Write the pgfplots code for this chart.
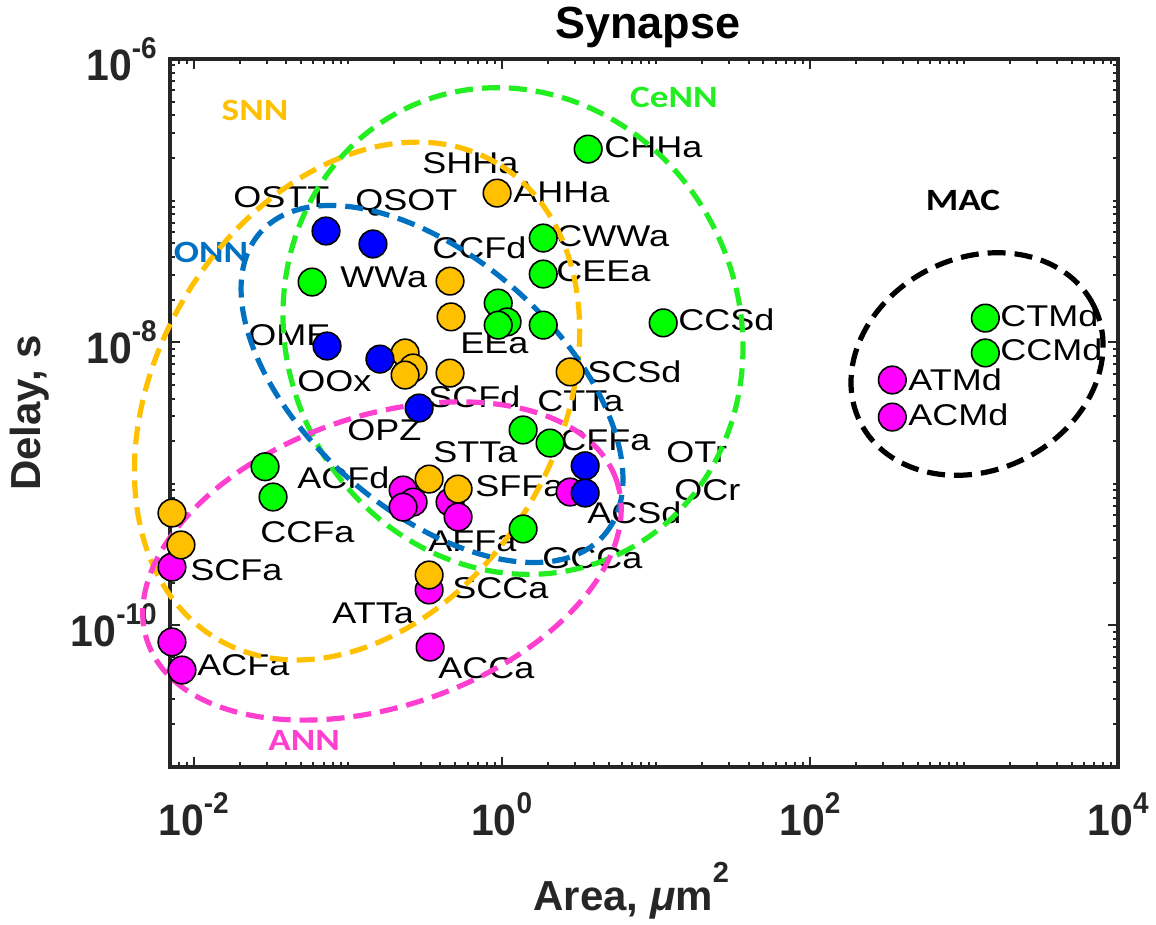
\documentclass[border=0pt]{standalone}
\usepackage{fontspec}
\setmainfont{Liberation Sans}
\newfontfamily\calib{Carlito}
\usepackage{pgfplots}
\pgfplotsset{compat=1.18}
\definecolor{cG}{HTML}{00FF00}
\definecolor{cO}{HTML}{FFC000}
\definecolor{cB}{HTML}{0000FF}
\definecolor{cM}{HTML}{FF00FF}
\definecolor{eONN}{HTML}{0070C0}
\definecolor{eANN}{HTML}{FF3FCF}
\definecolor{eCe}{HTML}{22EE22}
\definecolor{axg}{HTML}{262626}
\newcommand\tk[1]{\scalebox{0.93}[1]{\fontsize{22}{22}\selectfont\bfseries 10\raisebox{11pt}{\fontsize{15}{15}\selectfont #1}}}
\newcommand\lb[1]{\scalebox{1.2}[1]{\fontsize{15}{15}\selectfont #1}}
\newcommand\gl[1]{\scalebox{1.2}[1]{\fontsize{15.5}{15.5}\selectfont\calib\bfseries #1}}
\begin{document}
\begin{tikzpicture}
\useasboundingbox (-85pt,-79pt) rectangle (493pt,383.5pt);
\begin{axis}[
  scale only axis, width=474pt, height=354pt,
  xmode=log, ymode=log,
  xmin=0.00703, xmax=10000, ymin=1e-11, ymax=1e-6,
  xtick={0.01,1,100,10000},
  xticklabels={\tk{-2},\tk{0},\tk{2},\tk{4}},
  ytick={1e-10,1e-8,1e-6},
  yticklabels={\tk{-10},\tk{-8},\tk{-6}},
  minor xtick={0.008,0.009,0.02,0.03,0.04,0.05,0.06,0.07,0.08,0.09,0.1,0.2,0.3,0.4,0.5,0.6,0.7,0.8,0.9,2,3,4,5,6,7,8,9,10,20,30,40,50,60,70,80,90,200,300,400,500,600,700,800,900,1000,2000,3000,4000,5000,6000,7000,8000,9000},
  minor ytick={2e-11,3e-11,4e-11,5e-11,6e-11,7e-11,8e-11,9e-11,2e-10,3e-10,4e-10,5e-10,6e-10,7e-10,8e-10,9e-10,1e-9,2e-9,3e-9,4e-9,5e-9,6e-9,7e-9,8e-9,9e-9,2e-8,3e-8,4e-8,5e-8,6e-8,7e-8,8e-8,9e-8,1e-7,2e-7,3e-7,4e-7,5e-7,6e-7,7e-7,8e-7,9e-7},
  axis line style={line width=2pt, draw=axg},
  every tick/.style={line width=1pt, draw=axg},
  major tick length=5pt, minor tick length=2.5pt,
  tick align=inside,
  xticklabel style={anchor=north, inner sep=0pt, yshift=-12.5pt, text=axg},
  yticklabel style={anchor=east, inner sep=0pt, xshift=-6.5pt, text=axg},
  clip=false,
  title={\fontsize{22.5}{22.5}\selectfont\bfseries Synapse},
  title style={at={(axis description cs:0.504,1)}, anchor=base, yshift=4.5pt, inner sep=0pt},
  xlabel={\fontsize{21}{21}\selectfont\bfseries Area, {\itshape μ}m\raisebox{14pt}{\fontsize{14.5}{14.5}\selectfont 2}},
  every axis x label/.style={at={(axis description cs:0.3829,-0.2020)}, anchor=base west, inner sep=0pt, text=axg},
  ylabel={\fontsize{21}{21}\selectfont\bfseries Delay, s},
  every axis y label/.style={at={(axis description cs:-0.1477,0.5)}, rotate=90, anchor=center, inner sep=0pt, text=axg},
]
% ANN (magenta)
\addplot[only marks, mark=*, mark size=6.9pt, mark options={fill=cM, draw=black, line width=0.8pt}] coordinates {
(0.229,9.04e-10) (0.266,7.43e-10) (0.229,6.85e-10) (0.462,7.43e-10) (0.521,5.83e-10)
(2.78,8.75e-10) (0.00724,2.58e-10) (0.338,1.78e-10) (0.343,7.03e-11) (0.00724,7.64e-11)
(0.00841,4.84e-11) (343,5.41e-9) (343,2.96e-9)};
% CeNN (green)
\addplot[only marks, mark=*, mark size=6.9pt, mark options={fill=cG, draw=black, line width=0.8pt}] coordinates {
(3.64,2.31e-7) (1.86,5.44e-8) (1.86,3.03e-8) (0.0588,2.66e-8) (0.949,1.89e-8)
(1.084,1.39e-8) (0.949,1.32e-8) (1.86,1.32e-8) (11.17,1.37e-8) (1377,1.48e-8)
(1377,8.4e-9) (1.377,2.40e-9) (2.06,1.94e-9) (1.377,4.80e-10) (0.0291,1.32e-9)
(0.0328,8.07e-10)};
% SNN (orange)
\addplot[only marks, mark=*, mark size=6.9pt, mark options={fill=cO, draw=black, line width=0.8pt}] coordinates {
(0.933,1.13e-7) (0.462,2.70e-8) (0.469,1.51e-8) (0.236,8.4e-9) (0.266,6.58e-9)
(0.236,5.86e-9) (0.462,6.05e-9) (2.78,6.17e-9) (0.338,1.08e-9) (0.521,9.18e-10)
(0.00724,6.22e-10) (0.00828,3.70e-10) (0.338,2.27e-10)};
% ONN (blue)
\addplot[only marks, mark=*, mark size=6.9pt, mark options={fill=cB, draw=black, line width=0.8pt}] coordinates {
(0.0724,6.10e-8) (0.146,4.94e-8) (0.0735,9.4e-9) (0.162,7.6e-9) (0.291,3.43e-9)
(3.48,1.34e-9) (3.48,8.61e-10)};
% point labels
\tikzset{pl/.style={anchor=west, inner sep=0pt, text=black}}
\node[pl] at (rel axis cs:0.2658,0.8531) {\lb{SHHa}};
\node[pl] at (rel axis cs:0.3618,0.8121) {\lb{AHHa}};
\node[pl] at (rel axis cs:0.0665,0.8051) {\lb{OSTT}};
\node[pl] at (rel axis cs:0.1951,0.7966) {\lb{QSOT}};
\node[pl] at (rel axis cs:0.2764,0.7331) {\lb{CCFd}};
\node[pl] at (rel axis cs:0.4072,0.7500) {\lb{CWWa}};
\node[pl] at (rel axis cs:0.4072,0.7006) {\lb{CEEa}};
\node[pl] at (rel axis cs:0.4578,0.8757) {\lb{CHHa}};
\node[pl] at (rel axis cs:0.5359,0.6314) {\lb{CCSd}};
\node[pl] at (rel axis cs:0.1793,0.6921) {\lb{WWa}};
\node[pl] at (rel axis cs:0.0823,0.6102) {\lb{OME}};
\node[pl] at (rel axis cs:0.3059,0.5989) {\lb{EEa}};
\node[pl] at (rel axis cs:0.1340,0.5452) {\lb{OOx}};
\node[pl] at (rel axis cs:0.4399,0.5579) {\lb{SCSd}};
\node[pl] at (rel axis cs:0.2722,0.5226) {\lb{SCFd}};
\node[pl] at (rel axis cs:0.3871,0.5169) {\lb{CTTa}};
\node[pl] at (rel axis cs:0.1867,0.4760) {\lb{OPZ}};
\node[pl] at (rel axis cs:0.2774,0.4449) {\lb{STTa}};
\node[pl] at (rel axis cs:0.4114,0.4619) {\lb{CFFa}};
\node[pl] at (rel axis cs:0.5232,0.4449) {\lb{OTr}};
\node[pl] at (rel axis cs:0.5316,0.3912) {\lb{OCr}};
\node[pl] at (rel axis cs:0.4399,0.3588) {\lb{ACSd}};
\node[pl] at (rel axis cs:0.3924,0.2952) {\lb{GCCa}};
\node[pl] at (rel axis cs:0.3217,0.3969) {\lb{SFFa}};
\node[pl] at (rel axis cs:0.1340,0.4082) {\lb{ACFd}};
\node[pl] at (rel axis cs:0.2722,0.3192) {\lb{AFFa}};
\node[pl] at (rel axis cs:0.0949,0.3319) {\lb{CCFa}};
\node[pl] at (rel axis cs:0.0211,0.2782) {\lb{SCFa}};
\node[pl] at (rel axis cs:0.2975,0.2528) {\lb{SCCa}};
\node[pl] at (rel axis cs:0.1709,0.2175) {\lb{ATTa}};
\node[pl] at (rel axis cs:0.0285,0.1441) {\lb{ACFa}};
\node[pl] at (rel axis cs:0.2827,0.1398) {\lb{ACCa}};
\node[pl] at (rel axis cs:0.8755,0.6370) {\lb{CTMd}};
\node[pl] at (rel axis cs:0.8755,0.5890) {\lb{CCMd}};
\node[pl] at (rel axis cs:0.7785,0.5466) {\lb{ATMd}};
\node[pl] at (rel axis cs:0.7785,0.4972) {\lb{ACMd}};
% group labels
\node[inner sep=0pt, text=cO] at (rel axis cs:0.0897,0.9280) {\gl{SNN}};
\node[inner sep=0pt, text=eCe] at (rel axis cs:0.5316,0.9463) {\gl{CeNN}};
\node[inner sep=0pt, text=eONN] at (rel axis cs:0.0432,0.7274) {\gl{ONN}};
\node[inner sep=0pt, text=black] at (rel axis cs:0.8365,0.8008) {\gl{MAC}};
\node[inner sep=0pt, text=eANN] at (rel axis cs:0.1414,0.0381) {\gl{ANN}};
% ellipses
\tikzset{el/.style={line width=2.6pt, dash pattern=on 9pt off 4.5pt}}
\draw[el, cO] (rel axis cs:0.1973,0.5169) ellipse [x radius=138pt, y radius=100.5pt, rotate=59.6];
\draw[el, eCe] (rel axis cs:0.3618,0.6158) ellipse [x radius=123.5pt, y radius=113pt, rotate=-64.7];
\draw[el, eONN] (rel axis cs:0.2764,0.5410) ellipse [x radius=114.5pt, y radius=63pt, rotate=-41.4];
\draw[el, eANN] (rel axis cs:0.2236,0.2910) ellipse [x radius=124pt, y radius=72.5pt, rotate=19];
\draw[el, black] (rel axis cs:0.8513,0.5692) ellipse [x radius=65.25pt, y radius=53pt, rotate=26.4];
\end{axis}
\end{tikzpicture}
\end{document}
